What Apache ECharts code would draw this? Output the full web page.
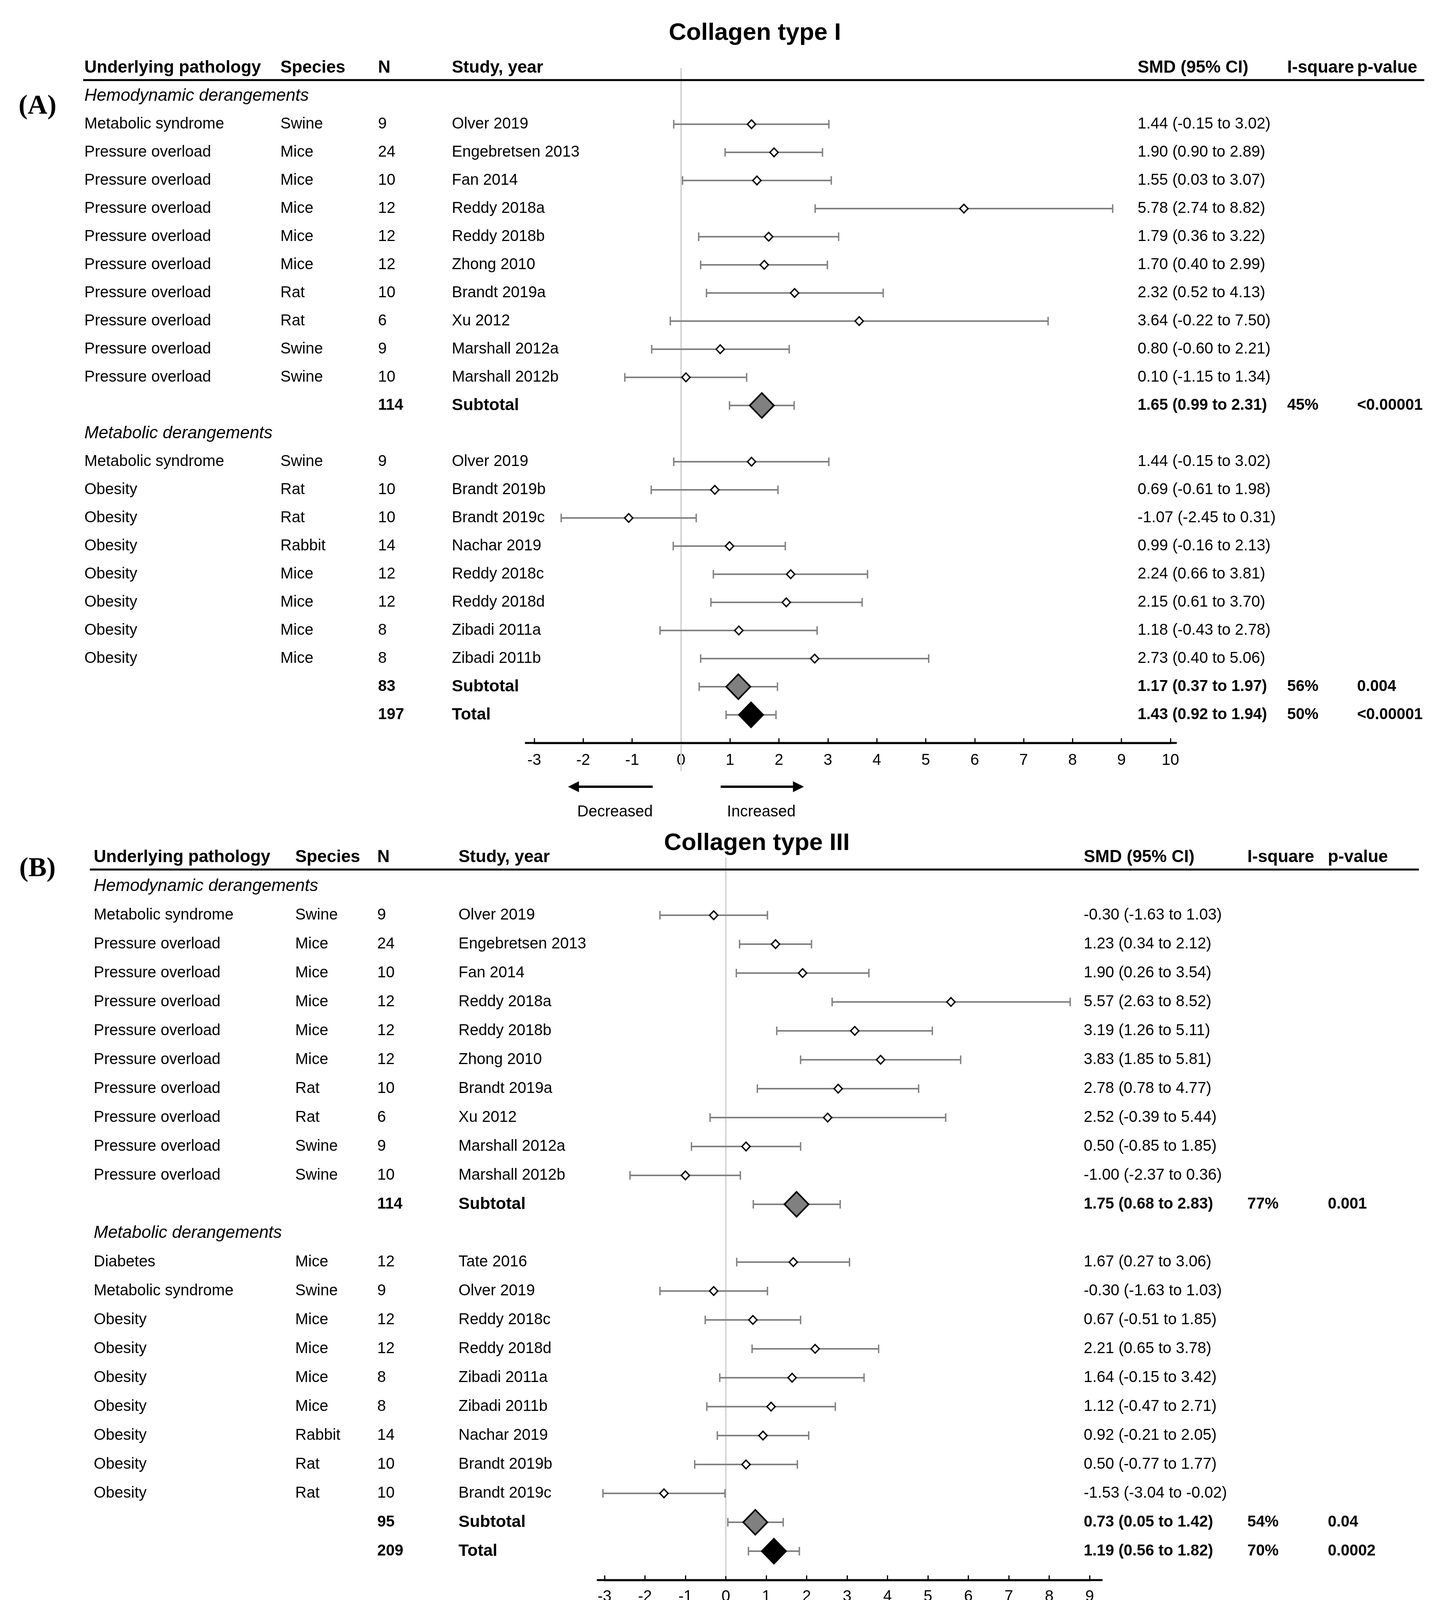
<!DOCTYPE html>
<html>
<head>
<meta charset="utf-8">
<title>Collagen type I / III forest plots</title>
<script src="https://cdn.jsdelivr.net/npm/echarts@6/dist/echarts.min.js"></script>
<style>
html,body{margin:0;padding:0;background:#ffffff;}
#chart{width:3677px;height:4277px;}
</style>
</head>
<body>
<div id="chart"></div>
<script>
// ================= DATA =================
const HEADERS = ['Underlying pathology', 'Species', 'N', 'Study, year', 'SMD (95% CI)', 'I-square', 'p-value'];
const GROUP_NAMES = ['Hemodynamic derangements', 'Metabolic derangements'];

// ---- Panel A : Collagen type I ----
const A_title = 'Collagen type I';
const A_letter = '(A)';
const A_groupSizes = [10, 8];
const A_pathology = ['Metabolic syndrome', 'Pressure overload', 'Pressure overload', 'Pressure overload', 'Pressure overload',
  'Pressure overload', 'Pressure overload', 'Pressure overload', 'Pressure overload', 'Pressure overload',
  'Metabolic syndrome', 'Obesity', 'Obesity', 'Obesity', 'Obesity', 'Obesity', 'Obesity', 'Obesity'];
const A_species = ['Swine', 'Mice', 'Mice', 'Mice', 'Mice', 'Mice', 'Rat', 'Rat', 'Swine', 'Swine',
  'Swine', 'Rat', 'Rat', 'Rabbit', 'Mice', 'Mice', 'Mice', 'Mice'];
const A_n = [9, 24, 10, 12, 12, 12, 10, 6, 9, 10, 9, 10, 10, 14, 12, 12, 8, 8];
const A_study = ['Olver 2019', 'Engebretsen 2013', 'Fan 2014', 'Reddy 2018a', 'Reddy 2018b', 'Zhong 2010', 'Brandt 2019a',
  'Xu 2012', 'Marshall 2012a', 'Marshall 2012b', 'Olver 2019', 'Brandt 2019b', 'Brandt 2019c', 'Nachar 2019',
  'Reddy 2018c', 'Reddy 2018d', 'Zibadi 2011a', 'Zibadi 2011b'];
const A_smd = [1.44, 1.90, 1.55, 5.78, 1.79, 1.70, 2.32, 3.64, 0.80, 0.10, 1.44, 0.69, -1.07, 0.99, 2.24, 2.15, 1.18, 2.73];
const A_lo = [-0.15, 0.90, 0.03, 2.74, 0.36, 0.40, 0.52, -0.22, -0.60, -1.15, -0.15, -0.61, -2.45, -0.16, 0.66, 0.61, -0.43, 0.40];
const A_hi = [3.02, 2.89, 3.07, 8.82, 3.22, 2.99, 4.13, 7.50, 2.21, 1.34, 3.02, 1.98, 0.31, 2.13, 3.81, 3.70, 2.78, 5.06];
const A_subN = [114, 83];
const A_subSmd = [1.65, 1.17];
const A_subLo = [0.99, 0.37];
const A_subHi = [2.31, 1.97];
const A_subI2 = ['45%', '56%'];
const A_subP = ['<0.00001', '0.004'];
const A_totN = [197];
const A_totSmd = [1.43];
const A_totLo = [0.92];
const A_totHi = [1.94];
const A_totI2 = ['50%'];
const A_totP = ['<0.00001'];
const A_axisRange = [-3, 10];

// ---- Panel B : Collagen type III ----
const B_title = 'Collagen type III';
const B_letter = '(B)';
const B_groupSizes = [10, 9];
const B_pathology = ['Metabolic syndrome', 'Pressure overload', 'Pressure overload', 'Pressure overload', 'Pressure overload',
  'Pressure overload', 'Pressure overload', 'Pressure overload', 'Pressure overload', 'Pressure overload',
  'Diabetes', 'Metabolic syndrome', 'Obesity', 'Obesity', 'Obesity', 'Obesity', 'Obesity', 'Obesity', 'Obesity'];
const B_species = ['Swine', 'Mice', 'Mice', 'Mice', 'Mice', 'Mice', 'Rat', 'Rat', 'Swine', 'Swine',
  'Mice', 'Swine', 'Mice', 'Mice', 'Mice', 'Mice', 'Rabbit', 'Rat', 'Rat'];
const B_n = [9, 24, 10, 12, 12, 12, 10, 6, 9, 10, 12, 9, 12, 12, 8, 8, 14, 10, 10];
const B_study = ['Olver 2019', 'Engebretsen 2013', 'Fan 2014', 'Reddy 2018a', 'Reddy 2018b', 'Zhong 2010', 'Brandt 2019a',
  'Xu 2012', 'Marshall 2012a', 'Marshall 2012b', 'Tate 2016', 'Olver 2019', 'Reddy 2018c', 'Reddy 2018d',
  'Zibadi 2011a', 'Zibadi 2011b', 'Nachar 2019', 'Brandt 2019b', 'Brandt 2019c'];
const B_smd = [-0.30, 1.23, 1.90, 5.57, 3.19, 3.83, 2.78, 2.52, 0.50, -1.00, 1.67, -0.30, 0.67, 2.21, 1.64, 1.12, 0.92, 0.50, -1.53];
const B_lo = [-1.63, 0.34, 0.26, 2.63, 1.26, 1.85, 0.78, -0.39, -0.85, -2.37, 0.27, -1.63, -0.51, 0.65, -0.15, -0.47, -0.21, -0.77, -3.04];
const B_hi = [1.03, 2.12, 3.54, 8.52, 5.11, 5.81, 4.77, 5.44, 1.85, 0.36, 3.06, 1.03, 1.85, 3.78, 3.42, 2.71, 2.05, 1.77, -0.02];
const B_subN = [114, 95];
const B_subSmd = [1.75, 0.73];
const B_subLo = [0.68, 0.05];
const B_subHi = [2.83, 1.42];
const B_subI2 = ['77%', '54%'];
const B_subP = ['0.001', '0.04'];
const B_totN = [209];
const B_totSmd = [1.19];
const B_totLo = [0.56];
const B_totHi = [1.82];
const B_totI2 = ['70%'];
const B_totP = ['0.0002'];
const B_axisRange = [-3, 9];

// ================= LAYOUT (positions / styles only) =================
const A_layout = {
  grid: { left: 1368, top: 174, width: 1629, height: 1728 },
  yMin: -2, yMax: 22,
  cols: [216, 718, 968, 1157, 2913, 3296, 3475],
  lineX: [213, 3647],
  zeroEnd: 23,
  axisFrom: -3.19, axisTo: 10.13,
  titleX: 1933, titleY: 85, letterX: 96, letterY: 273,
  arrowDy: 112, labelDy: 177,
  leftArrow: [-2.31, -0.58], rightArrow: [0.81, 2.51],
  decX: -1.35, incX: 1.64,
  labelMargin: 25
};
const B_layout = {
  grid: { left: 1548, top: 2195, width: 1242, height: 1850 },
  yMin: -2, yMax: 23,
  cols: [240, 756, 966, 1174, 2775, 3194, 3400],
  lineX: [230, 3633],
  zeroEnd: 22.86,
  axisFrom: -3.19, axisTo: 9.32,
  titleX: 1938, titleY: 2159, letterX: 96, letterY: 2225,
  arrowDy: 99, labelDy: 165,
  leftArrow: [-3.09, -1.11], rightArrow: [0.57, 2.55],
  decX: -1.98, incX: 1.59,
  labelMargin: 23
};

const FONT = '"Liberation Sans", Arial, Helvetica, sans-serif';
const SERIF = '"Liberation Serif", "Times New Roman", serif';
const GRAY = '#808080';
const ZERO_COLOR = '#d4d4d4';

const f2 = v => v.toFixed(2);
const ciText = (s, lo, hi) => f2(s) + ' (' + f2(lo) + ' to ' + f2(hi) + ')';

function T(x, y, s, o) {
  o = o || {};
  return {
    type: 'text', silent: true,
    style: {
      x: x, y: y, text: String(s), fill: '#000',
      fontSize: o.size || 40, fontFamily: o.family || FONT,
      fontWeight: o.bold ? 'bold' : 'normal', fontStyle: o.italic ? 'italic' : 'normal',
      align: o.align || 'left', verticalAlign: 'middle'
    }
  };
}
function LN(x1, y1, x2, y2, stroke, w) {
  return { type: 'line', silent: true, shape: { x1: x1, y1: y1, x2: x2, y2: y2 }, style: { stroke: stroke, lineWidth: w } };
}
function POLY(points, fill) {
  return { type: 'polygon', silent: true, shape: { points: points }, style: { fill: fill } };
}

function buildRows(groupSizes) {
  const rows = [];
  let r = -1, k = 0;
  groupSizes.forEach((sz, g) => {
    rows.push({ type: 'group', r: r++, g: g });
    for (let i = 0; i < sz; i++, k++) rows.push({ type: 'study', r: r++, i: k });
    rows.push({ type: 'sub', r: r++, g: g });
  });
  rows.push({ type: 'total', r: r++, g: 0 });
  return rows;
}

function panelSeries(P, Lay, gi) {
  const rows = buildRows(P.groupSizes);

  const decor = {
    type: 'custom', xAxisIndex: gi, yAxisIndex: gi, clip: false, silent: true, z: 1,
    data: [[0, 0]],
    renderItem: function (params, api) {
      const ch = [];
      const z0 = api.coord([0, Lay.yMin]), z1 = api.coord([0, Lay.zeroEnd]);
      ch.push(LN(z0[0], z0[1], z1[0], z1[1], ZERO_COLOR, 4));
      const a0 = api.coord([Lay.axisFrom, Lay.yMax]), a1 = api.coord([Lay.axisTo, Lay.yMax]);
      ch.push(LN(a0[0], a0[1], a1[0], a1[1], '#000', 5));
      const hy = api.coord([0, -2])[1];
      HEADERS.forEach((h, k) => ch.push(T(Lay.cols[k], hy, h, { bold: true, size: 44 })));
      ch.push(LN(Lay.lineX[0], hy + 31, Lay.lineX[1], hy + 31, '#000', 5));
      ch.push(T(Lay.titleX, Lay.titleY, P.title, { bold: true, size: 62, align: 'center' }));
      ch.push(T(Lay.letterX, Lay.letterY, P.letter, { bold: true, size: 70, family: SERIF, align: 'center' }));
      // direction arrows
      const ay = a0[1] + Lay.arrowDy;
      const l0 = api.coord([Lay.leftArrow[0], 0])[0], l1 = api.coord([Lay.leftArrow[1], 0])[0];
      ch.push(LN(l0 + 24, ay, l1, ay, '#000', 6));
      ch.push(POLY([[l0, ay], [l0 + 28, ay - 14], [l0 + 28, ay + 14]], '#000'));
      const r0 = api.coord([Lay.rightArrow[0], 0])[0], r1 = api.coord([Lay.rightArrow[1], 0])[0];
      ch.push(LN(r0, ay, r1 - 24, ay, '#000', 6));
      ch.push(POLY([[r1, ay], [r1 - 28, ay - 14], [r1 - 28, ay + 14]], '#000'));
      const ly = a0[1] + Lay.labelDy;
      ch.push(T(api.coord([Lay.decX, 0])[0], ly, 'Decreased', { align: 'center' }));
      ch.push(T(api.coord([Lay.incX, 0])[0], ly, 'Increased', { align: 'center' }));
      return { type: 'group', children: ch };
    }
  };

  const markData = [];
  rows.forEach(row => {
    if (row.type === 'study') markData.push([P.smd[row.i], row.r, P.lo[row.i], P.hi[row.i], 0]);
    else if (row.type === 'sub') markData.push([P.subSmd[row.g], row.r, P.subLo[row.g], P.subHi[row.g], 1]);
    else if (row.type === 'total') markData.push([P.totSmd[0], row.r, P.totLo[0], P.totHi[0], 2]);
  });
  const marks = {
    type: 'custom', xAxisIndex: gi, yAxisIndex: gi, clip: false, silent: true, z: 3,
    data: markData,
    renderItem: function (params, api) {
      const v = api.value(0), r = api.value(1), lo = api.value(2), hi = api.value(3), kind = api.value(4);
      const c = api.coord([v, r]), cl = api.coord([lo, r]), chh = api.coord([hi, r]);
      const y = c[1];
      const cap = 11;
      const children = [
        LN(cl[0], y, chh[0], y, GRAY, 4),
        LN(cl[0], y - cap, cl[0], y + cap, GRAY, 3.5),
        LN(chh[0], y - cap, chh[0], y + cap, GRAY, 3.5)
      ];
      const hw = kind === 0 ? 10.5 : 31;
      const hh = kind === 0 ? 11 : 32;
      const fill = kind === 0 ? '#ffffff' : (kind === 1 ? GRAY : '#000000');
      children.push({
        type: 'polygon', silent: true,
        shape: { points: [[c[0] - hw, y], [c[0], y - hh], [c[0] + hw, y], [c[0], y + hh]] },
        style: { fill: fill, stroke: '#000', lineWidth: kind === 0 ? 3.5 : 4, lineJoin: 'miter' }
      });
      return { type: 'group', children: children };
    }
  };

  const table = {
    type: 'custom', xAxisIndex: gi, yAxisIndex: gi, clip: false, silent: true, z: 2,
    data: rows.map((row, idx) => [0, row.r, idx]),
    renderItem: function (params, api) {
      const row = rows[api.value(2)];
      const y = api.coord([0, api.value(1)])[1];
      const c = Lay.cols;
      const ch = [];
      if (row.type === 'group') {
        ch.push(T(c[0], y, GROUP_NAMES[row.g], { italic: true, size: 44 }));
      } else if (row.type === 'study') {
        const i = row.i;
        ch.push(T(c[0], y, P.pathology[i]), T(c[1], y, P.species[i]), T(c[2], y, P.n[i]),
          T(c[3], y, P.study[i]), T(c[4], y, ciText(P.smd[i], P.lo[i], P.hi[i])));
      } else {
        const isSub = row.type === 'sub';
        const g = row.g;
        const n = isSub ? P.subN[g] : P.totN[0];
        const s = isSub ? P.subSmd[g] : P.totSmd[0];
        const lo = isSub ? P.subLo[g] : P.totLo[0];
        const hi = isSub ? P.subHi[g] : P.totHi[0];
        const i2 = isSub ? P.subI2[g] : P.totI2[0];
        const p = isSub ? P.subP[g] : P.totP[0];
        ch.push(T(c[2], y, n, { bold: true }), T(c[3], y, isSub ? 'Subtotal' : 'Total', { bold: true, size: 43 }),
          T(c[4], y, ciText(s, lo, hi), { bold: true }), T(c[5], y, i2, { bold: true }), T(c[6], y, p, { bold: true }));
      }
      return { type: 'group', children: ch };
    }
  };
  return [decor, table, marks];
}

const PA = {
  title: A_title, letter: A_letter, groupSizes: A_groupSizes, pathology: A_pathology, species: A_species, n: A_n,
  study: A_study, smd: A_smd, lo: A_lo, hi: A_hi, subN: A_subN, subSmd: A_subSmd, subLo: A_subLo, subHi: A_subHi,
  subI2: A_subI2, subP: A_subP, totN: A_totN, totSmd: A_totSmd, totLo: A_totLo, totHi: A_totHi, totI2: A_totI2, totP: A_totP
};
const PB = {
  title: B_title, letter: B_letter, groupSizes: B_groupSizes, pathology: B_pathology, species: B_species, n: B_n,
  study: B_study, smd: B_smd, lo: B_lo, hi: B_hi, subN: B_subN, subSmd: B_subSmd, subLo: B_subLo, subHi: B_subHi,
  subI2: B_subI2, subP: B_subP, totN: B_totN, totSmd: B_totSmd, totLo: B_totLo, totHi: B_totHi, totI2: B_totI2, totP: B_totP
};

function xAxisFor(range, gi, Lay) {
  return {
    type: 'value', gridIndex: gi, min: range[0], max: range[1], interval: 1, position: 'bottom',
    axisLine: { show: true, onZero: false, lineStyle: { color: '#000', width: 5 } },
    axisTick: { show: true, inside: true, length: 12, lineStyle: { color: '#000', width: 3 } },
    axisLabel: { show: true, color: '#000', fontSize: 40, fontFamily: FONT, margin: Lay.labelMargin },
    splitLine: { show: false }
  };
}
function yAxisFor(gi, Lay) {
  return { type: 'value', gridIndex: gi, min: Lay.yMin, max: Lay.yMax, inverse: true, show: false, splitLine: { show: false } };
}

const chart = echarts.init(document.getElementById('chart'), null, { renderer: 'canvas' });
chart.setOption({
  backgroundColor: '#ffffff',
  animation: false,
  grid: [
    Object.assign({ containLabel: false }, A_layout.grid),
    Object.assign({ containLabel: false }, B_layout.grid)
  ],
  xAxis: [xAxisFor(A_axisRange, 0, A_layout), xAxisFor(B_axisRange, 1, B_layout)],
  yAxis: [yAxisFor(0, A_layout), yAxisFor(1, B_layout)],
  series: [].concat(panelSeries(PA, A_layout, 0), panelSeries(PB, B_layout, 1))
});
</script>
</body>
</html>
